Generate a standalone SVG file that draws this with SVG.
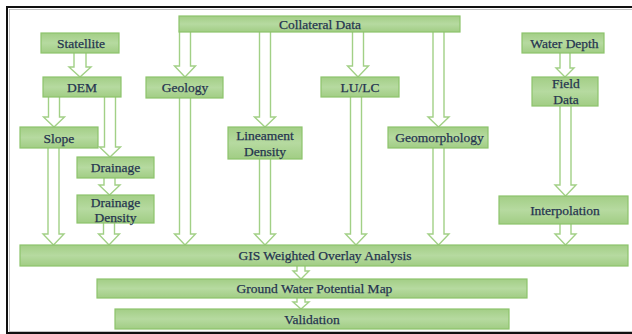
<svg xmlns="http://www.w3.org/2000/svg" width="632" height="334" viewBox="0 0 632 334">
<defs>
<linearGradient id="g" x1="0" y1="0" x2="0" y2="1">
<stop offset="0" stop-color="#a3ce86"/>
<stop offset="0.5" stop-color="#b6daa0"/>
<stop offset="1" stop-color="#a1cd84"/>
</linearGradient>
</defs>
<style>
.box{fill:url(#g);stroke:#8dc46c;stroke-width:1.2}
.arr{fill:#fff;stroke:#a2d086;stroke-width:1.4;stroke-linejoin:miter}
text{font-family:"Liberation Serif","Times New Roman",serif;font-size:13.5px;fill:#25344f;stroke:#25344f;stroke-width:0.25;text-anchor:middle}
</style>
<rect width="632" height="334" fill="#fff"/>
<rect x="7" y="7" width="640" height="326" fill="none" stroke="#111" stroke-width="2"/>
<rect x="9.6" y="9.6" width="640" height="322" fill="none" stroke="#aaa" stroke-width="0.7"/>
<g id="connectors">
<path class="arr" d="M74 52V67H69L80 77L91 67H86V52Z"/>
<path class="arr" d="M48.5 96V117H43.5L54 127L64.5 117H59.5V96Z"/>
<path class="arr" d="M104.5 96V147H99.5L110 157L120.5 147H115.5V96Z"/>
<path class="arr" d="M179.5 31V66H174.5L185 77L195.5 66H190.5V31Z"/>
<path class="arr" d="M259.5 31V117H254.5L265 127L275.5 117H270.5V31Z"/>
<path class="arr" d="M352.5 31V66H347.5L358 77L368.5 66H363.5V31Z"/>
<path class="arr" d="M433 31V117H428L438.5 127L449 117H444V31Z"/>
<path class="arr" d="M560 52V68H556L565 77L574 68H570V52Z"/>
<path class="arr" d="M560 105V185H555L565.5 196L576 185H571V105Z"/>
<path class="arr" d="M48 147V234H43L53.5 245L64 234H59V147Z"/>
<path class="arr" d="M104 177V185H99L109.5 195L120 185H115V177Z"/>
<path class="arr" d="M103.5 222V234H98.5L109 245L119.5 234H114.5V222Z"/>
<path class="arr" d="M179.5 97V234H174.5L185 245L195.5 234H190.5V97Z"/>
<path class="arr" d="M259.5 158V234H254.5L265 245L275.5 234H270.5V158Z"/>
<path class="arr" d="M350.5 96V234H345.5L356 245L366.5 234H361.5V96Z"/>
<path class="arr" d="M433 147V234H428L438.5 245L449 234H444V147Z"/>
<path class="arr" d="M560 223V234H555L565.5 245L576 234H571V223Z"/>
<path class="arr" d="M297 265V271H293L301 279L309 271H305V265Z"/>
<path class="arr" d="M297 297V302H293L301 309L309 302H305V297Z"/>
</g>
<g id="collateral"><rect class="box" x="179" y="16" width="281" height="16"/><text x="320" y="28.5">Collateral Data</text></g>
<g id="statellite"><rect class="box" x="41" y="33" width="78" height="20"/><text x="81" y="48">Statellite</text></g>
<g id="dem"><rect class="box" x="43" y="77" width="78" height="20"/><text x="82" y="92">DEM</text></g>
<g id="geology"><rect class="box" x="146" y="77" width="77" height="21"/><text x="185" y="92">Geology</text></g>
<g id="lulc"><rect class="box" x="321" y="77" width="78" height="20"/><text x="360" y="92">LU/LC</text></g>
<g id="waterdepth"><rect class="box" x="522" y="33" width="82" height="20"/><text x="564.5" y="47.5">Water Depth</text></g>
<g id="fielddata"><rect class="box" x="532" y="77" width="66" height="29"/><text x="566" y="88">Field</text><text x="566" y="104">Data</text></g>
<g id="slope"><rect class="box" x="20" y="127" width="78" height="21"/><text x="59" y="143">Slope</text></g>
<g id="lineament"><rect class="box" x="228" y="127" width="74" height="32"/><text x="265" y="140">Lineament</text><text x="265" y="156">Density</text></g>
<g id="geomorphology"><rect class="box" x="388" y="127" width="100" height="21"/><text x="439.5" y="142">Geomorphology</text></g>
<g id="drainage"><rect class="box" x="77" y="157" width="77" height="21"/><text x="115.5" y="172">Drainage</text></g>
<g id="drainagedensity"><rect class="box" x="77" y="195" width="77" height="28"/><text x="115.5" y="207">Drainage</text><text x="115.5" y="222">Density</text></g>
<g id="interpolation"><rect class="box" x="499" y="196" width="129" height="28"/><text x="565" y="215">Interpolation</text></g>
<g id="gis"><rect class="box" x="20" y="245" width="608" height="21"/><text x="325" y="260">GIS Weighted Overlay Analysis</text></g>
<g id="gwpm"><rect class="box" x="97" y="279" width="430" height="19"/><text x="314.5" y="293">Ground Water Potential Map</text></g>
<g id="validation"><rect class="box" x="115" y="309" width="394" height="20"/><text x="312" y="324">Validation</text></g>
</svg>
